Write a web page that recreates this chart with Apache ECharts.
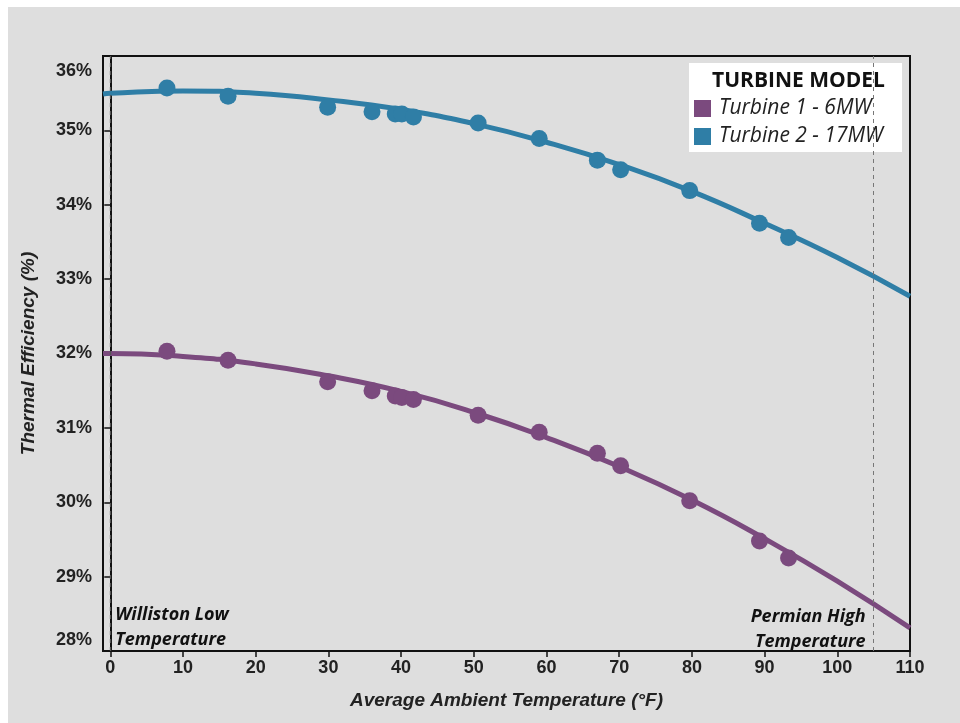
<!DOCTYPE html>
<html>
<head>
<meta charset="utf-8">
<script src="https://cdn.jsdelivr.net/npm/echarts@6/dist/echarts.min.js"></script>
<style>
  html, body { margin: 0; padding: 0; background: #ffffff; }
  #chart { width: 960px; height: 723px; }
</style>
</head>
<body>
<div id="chart"></div>
<script>
// Measured site temperatures (°F) and turbine efficiencies (%) at those temperatures
const siteTemps = [7.8, 16.2, 29.9, 36.0, 39.2, 40.1, 41.7, 50.6, 59.0, 67.0, 70.2, 79.7, 89.3, 93.3];
const turbine1Eff = [32.03, 31.91, 31.62, 31.50, 31.43, 31.41, 31.38, 31.17, 30.94, 30.66, 30.49, 30.02, 29.48, 29.25];
const turbine2Eff = [35.57, 35.46, 35.31, 35.25, 35.22, 35.22, 35.18, 35.10, 34.89, 34.60, 34.47, 34.19, 33.75, 33.56];

// Performance curves across the full temperature range
const curveTemps = [-1, 0, 10, 20, 30, 40, 50, 60, 70, 80, 90, 100, 110];
const turbine1Curve = [32.00, 32.00, 31.96, 31.86, 31.70, 31.49, 31.21, 30.87, 30.48, 30.03, 29.51, 28.94, 28.31];
const turbine2Curve = [35.49, 35.50, 35.53, 35.50, 35.41, 35.28, 35.09, 34.84, 34.54, 34.18, 33.75, 33.29, 32.77];

// Axis ticks
const xTicks = [0, 10, 20, 30, 40, 50, 60, 70, 80, 90, 100, 110];
const yTicks = [28, 29, 30, 31, 32, 33, 34, 35, 36];

// Reference temperatures
const willistonLow = 0;
const permianHigh = 105;

const seriesNames = ['Turbine 1 - 6MW', 'Turbine 2 - 17MW'];
const colors = ['#7b4a7e', '#2f7ea6'];

const pairs = (xs, ys) => xs.map((x, i) => [x, ys[i]]);

const labelFont = 'Liberation Sans, Arial, sans-serif';
const noteFont = '"Open Sans", Lato, sans-serif';

const chart = echarts.init(document.getElementById('chart'));

chart.setOption({
  backgroundColor: '#ffffff',
  animation: false,
  graphic: [{
    type: 'rect',
    left: 8, top: 7,
    shape: { width: 952, height: 716 },
    style: { fill: '#dedede' },
    z: -100, silent: true
  }],
  title: {
    text: 'TURBINE MODEL',
    left: 712, top: 69, padding: 0,
    textStyle: { fontFamily: noteFont, fontSize: 21, fontWeight: 'bold', color: '#111', lineHeight: 24 }
  },
  legend: {
    data: seriesNames,
    orient: 'vertical',
    left: 689, top: 63,
    padding: [35, 19, 5, 5],
    itemGap: 7,
    itemWidth: 17, itemHeight: 17,
    icon: 'rect',
    backgroundColor: '#ffffff',
    textStyle: { fontFamily: noteFont, fontStyle: 'italic', fontSize: 21, lineHeight: 21, color: '#222', padding: [0, 0, 0, 3] }
  },
  grid: {
    left: 103, right: 50, top: 56, bottom: 72,
    show: true, borderColor: '#111', borderWidth: 2, backgroundColor: 'transparent'
  },
  xAxis: {
    type: 'value',
    min: -1, max: 110,
    name: 'Average Ambient Temperature (°F)',
    nameLocation: 'middle',
    nameGap: 40,
    nameTextStyle: { fontFamily: labelFont, fontSize: 19, fontWeight: 'bold', fontStyle: 'italic', color: '#222' },
    axisLine: { lineStyle: { color: '#111', width: 2 } },
    axisTick: { show: true, length: 6, customValues: xTicks, lineStyle: { color: '#111', width: 1.5 } },
    axisLabel: {
      customValues: xTicks, margin: 8,
      fontFamily: labelFont, fontSize: 18, fontWeight: 'bold', color: '#222'
    },
    splitLine: { show: false }
  },
  yAxis: {
    type: 'value',
    min: 28, max: 36, interval: 1,
    name: 'Thermal Efficiency (%)',
    nameLocation: 'middle',
    nameGap: 65,
    nameTextStyle: { fontFamily: labelFont, fontSize: 19, fontWeight: 'bold', fontStyle: 'italic', color: '#222' },
    axisLine: { show: true, lineStyle: { color: '#111', width: 2 } },
    axisTick: { show: true, length: 6, lineStyle: { color: '#111', width: 1.5 } },
    axisLabel: {
      margin: 11,
      fontFamily: labelFont, fontSize: 18, fontWeight: 'bold', color: '#222',
      formatter: v => v === yTicks[yTicks.length - 1] ? '{top|' + v + '%}'
                    : v === yTicks[0] ? '{bot|' + v + '%}' : v + '%',
      rich: {
        top: { fontFamily: labelFont, fontSize: 18, fontWeight: 'bold', color: '#222', padding: [30, 0, 0, 0] },
        bot: { fontFamily: labelFont, fontSize: 18, fontWeight: 'bold', color: '#222', padding: [0, 0, 22, 0] }
      }
    },
    splitLine: { show: false }
  },
  series: [
    {
      name: seriesNames[0], type: 'line',
      data: pairs(curveTemps, turbine1Curve),
      smooth: true, showSymbol: false,
      lineStyle: { color: colors[0], width: 5 },
      itemStyle: { color: colors[0] },
      z: 3,
      markLine: {
        silent: true, symbol: 'none', label: { show: false },
        data: [
          { xAxis: willistonLow, lineStyle: { color: '#555', type: [4, 4], width: 1.3 } },
          { xAxis: permianHigh, lineStyle: { color: '#777', type: [4, 4], width: 1 } }
        ]
      },
      markPoint: {
        silent: true, symbol: 'circle', symbolSize: 0,
        label: {
          show: true,
          fontFamily: noteFont, fontSize: 18, fontWeight: 'bold', fontStyle: 'italic',
          color: '#111', lineHeight: 25
        },
        data: [
          { coord: [willistonLow, 28], value: 'Williston Low\nTemperature',
            label: { formatter: 'Williston Low\nTemperature', position: 'insideBottomLeft', align: 'left', verticalAlign: 'bottom', offset: [0, 6] } },
          { coord: [permianHigh, 28], value: 'Permian High\nTemperature',
            label: { formatter: 'Permian High\nTemperature', align: 'right', verticalAlign: 'bottom', offset: [-8, 3] } }
        ]
      }
    },
    {
      name: seriesNames[1], type: 'line',
      data: pairs(curveTemps, turbine2Curve),
      smooth: true, showSymbol: false,
      lineStyle: { color: colors[1], width: 5 },
      itemStyle: { color: colors[1] },
      z: 3
    },
    {
      name: seriesNames[0], type: 'scatter',
      data: pairs(siteTemps, turbine1Eff),
      symbolSize: 17,
      itemStyle: { color: colors[0], opacity: 1 },
      z: 4
    },
    {
      name: seriesNames[1], type: 'scatter',
      data: pairs(siteTemps, turbine2Eff),
      symbolSize: 17,
      itemStyle: { color: colors[1], opacity: 1 },
      z: 4
    }
  ]
});
</script>
</body>
</html>
